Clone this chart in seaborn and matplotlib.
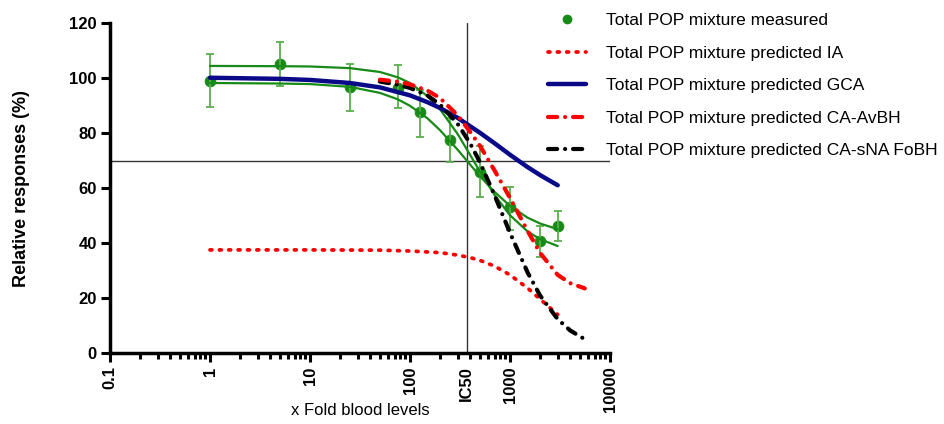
import numpy as np
import pandas as pd
import seaborn as sns
import matplotlib.pyplot as plt
from matplotlib.lines import Line2D
from matplotlib.ticker import LogLocator, NullFormatter
from matplotlib.transforms import offset_copy

sns.set_style('ticks')
plt.rcParams['font.family'] = ['Liberation Sans', 'DejaVu Sans']
for key in ['text.color', 'axes.labelcolor', 'xtick.color', 'ytick.color']:
    plt.rcParams[key] = 'black'

# measured points (x fold blood levels) with error bar limits
dose = [1, 5, 25, 75, 125, 250, 500, 1000, 2000, 3000]
measured = [99.1, 105.2, 96.9, 96.5, 87.9, 77.6, 66.0, 53.3, 40.9, 46.4]
err_low = [89.5, 97.2, 88.2, 89.1, 78.8, 69.5, 57.0, 45.0, 35.2, 40.8]
err_high = [108.8, 113.3, 105.1, 104.8, 95.7, 85.5, 75.4, 60.4, 46.4, 51.9]

fit_x = [1, 5, 10, 25, 50, 75, 100, 150, 200, 300, 400, 500, 700, 1000, 1500, 2000, 3000]
fit_a = [98.3, 98.1, 97.9, 96.9, 94.7, 92.4, 90.0, 85.4, 81.1, 74.0, 68.6, 64.4, 58.7, 53.6, 49.3, 47.2, 45.1]
fit_b = [104.5, 104.4, 104.3, 103.7, 102.3, 100.4, 98.3, 93.5, 88.7, 79.7, 72.1, 66.1, 57.6, 50.2, 44.3, 41.5, 39.0]

# predictions
ia_x = [1, 10, 50, 100, 200, 300, 400, 500, 700, 1000, 1500, 2000, 2500, 3000]
ia_y = [37.6, 37.6, 37.5, 37.2, 36.6, 35.7, 34.8, 33.8, 31.7, 28.5, 23.7, 19.7, 16.6, 14.1]

gca_x = [1, 5, 10, 25, 50, 100, 150, 200, 300, 500, 700, 1000, 1500, 2000, 3000]
gca_y = [100.2, 99.8, 99.4, 98.3, 96.7, 93.8, 91.3, 89.2, 85.6, 80.2, 76.4, 72.2, 67.7, 64.8, 61.1]

avbh_x = [50, 75, 100, 150, 200, 300, 400, 500, 700, 1000, 1500, 2000, 3000, 4000, 5600]
avbh_y = [99.5, 98.8, 97.8, 95.5, 92.8, 86.5, 80.5, 75.5, 66.5, 56.5, 44.5, 36.5, 28.5, 25.5, 23.6]

fobh_x = [50, 75, 100, 150, 200, 300, 400, 500, 700, 1000, 1500, 2000, 3000, 4000, 5600]
fobh_y = [98.8, 97.7, 96.5, 93.7, 90.4, 83.4, 76.3, 69.5, 57.5, 43.8, 29.4, 21.0, 12.4, 8.3, 5.1]

ic50 = 370
ref_level = 70

xticks = [0.1, 1, 10, 100, 1000, 10000]
xtick_labels = ['0.1', '1', '10', '100', '1000', '10000']
yticks = [0, 20, 40, 60, 80, 100, 120]

labels = ['Total POP mixture measured',
          'Total POP mixture predicted IA',
          'Total POP mixture predicted GCA',
          'Total POP mixture predicted CA-AvBH',
          'Total POP mixture predicted CA-sNA FoBH']

green = '#178a17'
green_light = '#5aaf4e'
navy = '#0a0a88'
red = '#ff0000'

dotted = (0, (0.5, 2.0))
dashdot = (0, (2.2, 1.9, 0.01, 1.9))

fig = plt.figure(figsize=(9.44, 4.24), dpi=100)
ax = fig.add_axes([110 / 944, (424 - 353.3) / 424, 500 / 944, 330 / 424])
ax.set_xscale('log')

# reference lines
ax.axvline(ic50, color='#333333', lw=1.0, zorder=1)
ax.axhline(ref_level, color='#333333', lw=1.0, zorder=1)

# measured data
ax.errorbar(dose, measured,
            yerr=[np.array(measured) - np.array(err_low), np.array(err_high) - np.array(measured)],
            fmt='none', ecolor=green_light, elinewidth=1.3, capsize=3, capthick=1.3, zorder=3)
sns.scatterplot(x=dose, y=measured, ax=ax, color=green, edgecolor=green, s=60, zorder=2, legend=False)

sns.lineplot(x=fit_x, y=fit_a, ax=ax, color=green, lw=1.6, zorder=4, sort=False, estimator=None)
sns.lineplot(x=fit_x, y=fit_b, ax=ax, color=green, lw=1.6, zorder=4, sort=False, estimator=None)

sns.lineplot(x=ia_x, y=ia_y, ax=ax, color=red, lw=2.7, linestyle=dotted, zorder=5, sort=False, estimator=None)
ax.lines[-1].set_dash_capstyle('round')
sns.lineplot(x=gca_x, y=gca_y, ax=ax, color=navy, lw=3.2, zorder=6, sort=False, estimator=None)
sns.lineplot(x=fobh_x, y=fobh_y, ax=ax, color='black', lw=3.0, linestyle=dashdot, zorder=7, sort=False, estimator=None)
ax.lines[-1].set_dash_capstyle('round')
sns.lineplot(x=avbh_x, y=avbh_y, ax=ax, color=red, lw=3.0, linestyle=dashdot, zorder=8, sort=False, estimator=None)
ax.lines[-1].set_dash_capstyle('round')

ax.set_xlim(0.1, 10000)
ax.set_ylim(0, 120)

# axes styling
sns.despine(ax=ax)
for side in ['left', 'bottom']:
    ax.spines[side].set_linewidth(2.5)
    ax.spines[side].set_color('black')

ax.set_yticks(yticks, [str(v) for v in yticks], fontweight='bold', fontsize=12)
ax.set_xticks(xticks, xtick_labels, fontweight='bold', fontsize=12, rotation=90)
ax.xaxis.set_minor_locator(LogLocator(base=10, subs=np.arange(2, 10), numticks=20))
ax.xaxis.set_minor_formatter(NullFormatter())
ax.tick_params(axis='both', which='major', length=6.5, width=2.2, pad=3, color='black')
ax.tick_params(axis='x', which='minor', length=4, width=2.2, color='black')

ic_trans = offset_copy(ax.get_xaxis_transform(), fig=fig, y=-9.5, units='points')
ax.text(ic50, 0, 'IC50', transform=ic_trans, rotation=90, ha='center', va='top',
        fontsize=12, fontweight='bold')

ax.set_ylabel('Relative responses (%)', fontsize=13, fontweight='bold')
ax.yaxis.set_label_coords(-0.16, 0.5)
ax.set_xlabel('x Fold blood levels', fontsize=12)
ax.xaxis.set_label_coords(0.5, -0.152)

handles = [
    Line2D([], [], marker='o', ls='none', color=green, ms=6),
    Line2D([], [], color=red, lw=2.7, ls=dotted, dash_capstyle='round'),
    Line2D([], [], color=navy, lw=3.2),
    Line2D([], [], color=red, lw=3.0, ls=dashdot, dash_capstyle='round'),
    Line2D([], [], color='black', lw=3.0, ls=dashdot, dash_capstyle='round'),
]
leg = fig.legend(handles, labels, loc='upper left', bbox_to_anchor=(548 / 944, 1 - 13 / 424),
                 frameon=False, fontsize=12.5, handlelength=2.2, handletextpad=1.15,
                 labelspacing=1.0, borderpad=0, borderaxespad=0)
for h in leg.get_lines():
    h.set_dash_capstyle('round')

fig.savefig('out.png', dpi=100)
